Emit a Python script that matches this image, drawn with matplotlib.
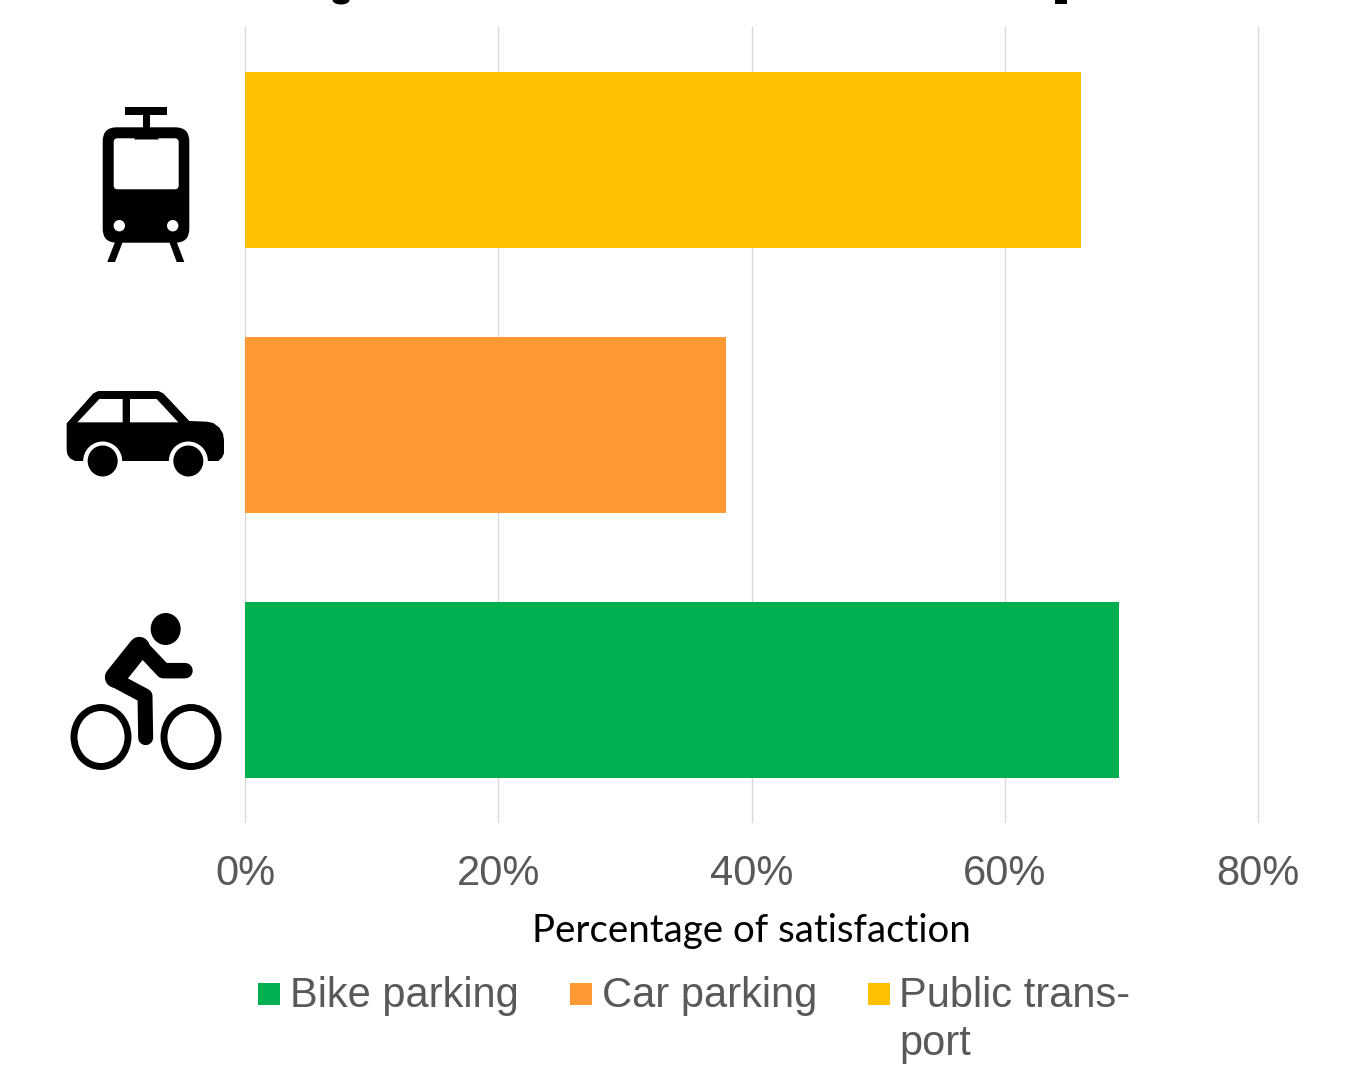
import matplotlib
matplotlib.use('Agg')
import matplotlib.pyplot as plt
from matplotlib.patches import Circle, Ellipse, FancyBboxPatch, Polygon, Rectangle

W, H = 1355, 1070

categories = ['Bike parking', 'Car parking', 'Public trans-\nport']
satisfaction = [69, 38, 66]
colors = ['#00b050', '#ff9933', '#ffc000']
xticks = [0, 20, 40, 60, 80]
xticklabels = ['0%', '20%', '40%', '60%', '80%']

GREY = '#595959'

fig = plt.figure(figsize=(W / 100, H / 100), dpi=100)
ax = fig.add_axes([245 / W, 1 - 822 / H, (1258 - 245) / W, (822 - 27) / H])

ax.barh(range(len(categories)), satisfaction, height=0.667, color=colors, zorder=3)
ax.set_xlim(0, 80)
ax.set_ylim(-0.4985, 2.5015)
ax.set_yticks([])
ax.set_xticks(xticks)
ax.set_xticklabels(xticklabels, fontsize=30, color=GREY, family='Liberation Sans')
ax.tick_params(axis='x', length=0, pad=23)
ax.grid(axis='x', color='#d9d9d9', lw=1, clip_on=False)
for s in ax.spines.values():
    s.set_visible(False)
ax.set_xlabel('Percentage of satisfaction', fontsize=27.6, family='Lato', color='black', labelpad=14)

# overlay in pixel coordinates for the icons and the legend
ov = fig.add_axes([0, 0, 1, 1])
ov.set_xlim(0, W)
ov.set_ylim(H, 0)
ov.axis('off')
ov.patch.set_alpha(0)


def tram():
    ov.add_patch(Rectangle((124.7, 107.3), 42.6, 8, color='k', lw=0))
    ov.add_patch(Rectangle((142.7, 115), 7.3, 14, color='k', lw=0))
    ov.add_patch(FancyBboxPatch((116.7, 141.3), 58.6, 87.4, boxstyle='round,pad=14,rounding_size=14', color='k', lw=0))
    ov.add_patch(FancyBboxPatch((117.7, 142.3), 57, 43, boxstyle='round,pad=4,rounding_size=4', color='w', lw=0))
    ov.add_patch(Polygon([(134, 139.5), (137, 135.5), (156, 135.5), (159, 139.5)], color='k', lw=0))
    for x in [119.3, 172.7]:
        ov.add_patch(Circle((x, 225.7), 5.7, color='w', lw=0))
    ov.add_patch(Polygon([(115, 242), (122.7, 242), (115, 262), (107.3, 262)], color='k', lw=0))
    ov.add_patch(Polygon([(169.3, 242), (176.7, 242), (184.3, 262), (176.7, 262)], color='k', lw=0))


def car():
    def p(x, y):
        return 50 + x / 3, 375 + y / 3
    body = [(50, 145), (130, 55), (145, 48), (325, 48), (340, 55), (418, 138), (470, 140),
            (490, 144), (508, 158), (519, 176), (522, 195), (522, 235), (516, 248), (505, 258),
            (75, 258), (60, 250), (52, 238), (50, 225)]
    ov.add_patch(Polygon([p(*q) for q in body], color='k', lw=0))
    ov.add_patch(Polygon([p(*q) for q in [(82, 142), (148, 72), (218, 72), (218, 142)]], color='w', lw=0))
    ov.add_patch(Polygon([p(*q) for q in [(240, 72), (320, 72), (385, 142), (240, 142)]], color='w', lw=0))
    for x in [158, 415]:
        ov.add_patch(Circle(p(x, 258), 19.5, color='w', lw=0))
        ov.add_patch(Ellipse(p(x, 258), 30, 31, color='k', lw=0))


def bike():
    def p(x, y):
        return 50 + x / 3, 600 + y / 3
    ov.add_patch(Ellipse(p(347, 87), 30, 32, color='k', lw=0))
    for x in [153, 423]:
        ov.add_patch(Ellipse(p(x, 411), 54, 59, fc='none', ec='k', lw=5))

    def limb(pts, width):
        xs, ys = zip(*[p(*q) for q in pts])
        ov.plot(xs, ys, color='k', lw=width * 0.72, solid_capstyle='round', solid_joinstyle='round')
    limb([(195, 240), (285, 288), (287, 413)], 15)
    limb([(272, 140), (340, 212), (405, 212)], 15.5)
    limb([(268, 142), (196, 232)], 21)


tram()
car()
bike()

# cut-off title remnants at the top edge
ov.add_patch(Ellipse((341, 0), 17, 9, color='k', lw=0))
ov.add_patch(Rectangle((1055, 0), 12, 4, color='k', lw=0))

# legend
for sq, tx, name, c in zip([258, 570, 868], [290, 602, 899], categories, colors):
    ov.add_patch(Rectangle((sq, 983), 22, 22, color=c, lw=0))
    for i, line in enumerate(name.split('\n')):
        ov.text(tx, 1007 + i * 48, line, fontsize=30, color=GREY, family='Liberation Sans', va='baseline')

fig.savefig('out.png', dpi=100)
